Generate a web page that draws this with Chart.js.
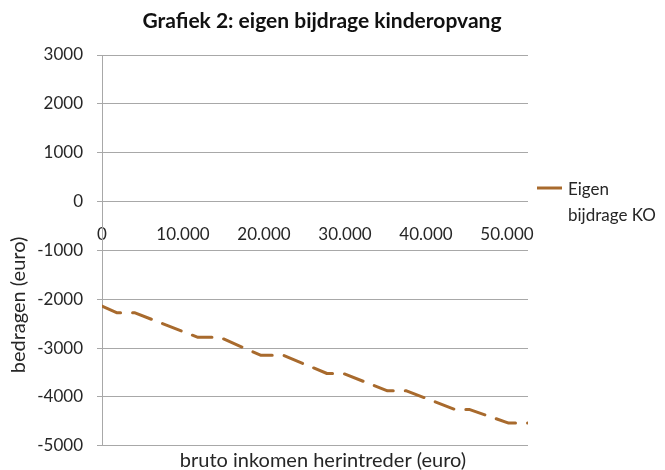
<!DOCTYPE html>
<html lang="nl">
<head>
<meta charset="utf-8">
<title>Grafiek 2: eigen bijdrage kinderopvang</title>
<script src="https://cdn.jsdelivr.net/npm/chart.js@4.4.1/dist/chart.umd.min.js"></script>
<style>
  html, body { margin: 0; padding: 0; background: #fff; }
  #wrap { width: 665px; height: 470px; }
</style>
</head>
<body>
<div id="wrap"><canvas id="chart" width="665" height="470"></canvas></div>
<script>
/* Grafiek 2 — eigen bijdrage kinderopvang */

var TITLE = "Grafiek 2: eigen bijdrage kinderopvang";
var X_TITLE = "bruto inkomen herintreder (euro)";
var Y_TITLE = "bedragen (euro)";
var SERIES_LABEL = ["Eigen", "bijdrage KO"];

/* bruto inkomen (euro) -> eigen bijdrage (euro) */
var income = [0, 1800, 4000, 11850, 14570, 19570, 22350, 27780, 29800, 35250, 37600, 43560, 45330, 50210, 52600];
var contribution = [-2140, -2275, -2275, -2780, -2780, -3145, -3145, -3520, -3520, -3875, -3875, -4255, -4255, -4535, -4535];

var xTicks = [0, 10000, 20000, 30000, 40000, 50000];
var yTicks = [-5000, -4000, -3000, -2000, -1000, 0, 1000, 2000, 3000];

var BROWN = "#a86a2d";
var GRID = "#a8a8a8";
var FONT = "Lato, 'Open Sans', sans-serif";

Chart.defaults.font.family = FONT;
Chart.defaults.font.size = 17;
Chart.defaults.color = "#262626";

function dotted(v) {
  return String(v).replace(/\B(?=(\d{3})+(?!\d))/g, ".");
}

/* titles + legend drawn on top (legend text wraps over two lines) */
var textLayer = {
  id: "textLayer",
  afterDraw: function (chart) {
    var ctx = chart.ctx;
    var ds = chart.data.datasets[0];
    ctx.save();
    ctx.textAlign = "center";
    ctx.textBaseline = "alphabetic";
    ctx.fillStyle = "#111";
    ctx.font = "bold 21px " + FONT;
    ctx.fillText(TITLE, 322, 28);

    ctx.fillStyle = "#262626";
    ctx.font = "20px " + FONT;
    ctx.fillText(X_TITLE, 323, 467);

    ctx.save();
    ctx.translate(19, 305);
    ctx.rotate(-Math.PI / 2);
    ctx.textBaseline = "middle";
    ctx.fillText(Y_TITLE, 0, 0);
    ctx.restore();

    /* legend */
    ctx.strokeStyle = ds.borderColor;
    ctx.lineWidth = 3;
    ctx.beginPath();
    ctx.moveTo(537, 188);
    ctx.lineTo(562, 188);
    ctx.stroke();
    ctx.font = "17px " + FONT;
    ctx.textAlign = "left";
    ctx.fillText(SERIES_LABEL[0], 568, 195);
    ctx.fillText(SERIES_LABEL[1], 568, 221);
    ctx.restore();
  }
};

new Chart(document.getElementById("chart"), {
  type: "line",
  data: {
    datasets: [{
      label: SERIES_LABEL.join(" "),
      data: income.map(function (x, i) { return { x: x, y: contribution[i] }; }),
      borderColor: BROWN,
      backgroundColor: BROWN,
      borderWidth: 3,
      borderDash: [20, 12],
      borderCapStyle: "round",
      borderJoinStyle: "round",
      pointRadius: 0,
      tension: 0,
      fill: false
    }]
  },
  options: {
    responsive: false,
    animation: false,
    layout: { padding: { top: 55, right: 137, bottom: 24, left: 0 } },
    plugins: {
      legend: { display: false },
      title: { display: false },
      tooltip: { enabled: false }
    },
    scales: {
      x: {
        type: "linear",
        min: 0,
        max: 52600,
        position: { y: 0 },
        afterBuildTicks: function (s) {
          s.ticks = xTicks.map(function (v) { return { value: v }; });
        },
        ticks: {
          padding: 23,
          autoSkip: false,
          maxRotation: 0,
          callback: function (v) { return dotted(v); }
        },
        grid: { display: false, drawTicks: false },
        border: { display: false }
      },
      y: {
        min: -5000,
        max: 3000,
        afterBuildTicks: function (s) {
          s.ticks = yTicks.map(function (v) { return { value: v }; });
        },
        afterFit: function (s) { s.width = 102; },
        ticks: {
          padding: 14,
          callback: function (v) { return String(v); }
        },
        grid: { color: GRID, tickLength: 5, drawTicks: true },
        border: { display: true, color: GRID }
      }
    }
  },
  plugins: [textLayer]
});
</script>
</body>
</html>
